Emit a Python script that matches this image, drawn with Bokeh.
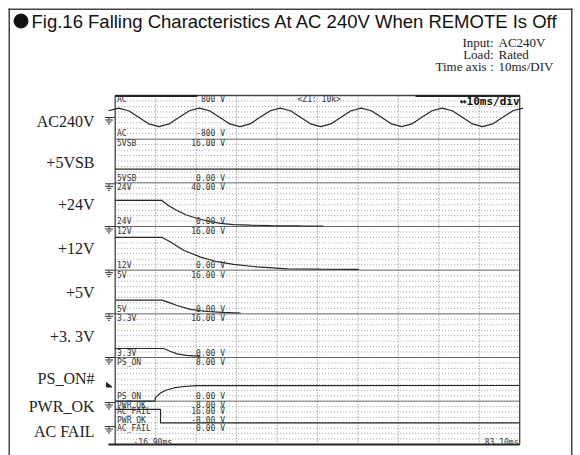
import numpy as np
from bokeh.plotting import figure
from bokeh.models import Range1d
from bokeh.core.properties import value
from bokeh.embed import file_html
from bokeh.resources import INLINE

# ---------------- data ----------------
t_start, t_end = -16.9, 83.1            # time axis (ms), 10 ms/div

# AC input (V), sampled every 2.5 ms starting at -18.58 ms
ac_t0, ac_dt = -18.58, 2.5
ac_v = [240, 340, 240, 0, -240, -340, -240, 0,
        240, 340, 240, 0, -240, -340, -240, 0,
        240, 340, 240, 0, -240, -340, -240, 0,
        240, 340, 240, 0, -240, -340, -240, 0,
        240, 340, 240, 0, -240, -340, -240, 0,
        240, 340]

vsb_t = [-16.9, 83.1]
vsb_v = [5.0, 5.0]
v24_t = [-16.9, -5.45, -3.7, -1.6, 0.7, 3.4, 6.2, 9.1, 12.4, 16.6, 21.5, 28.9, 34.6]
v24_v = [24.0, 24.0, 19.0, 14.7, 10.5, 7.3, 4.8, 2.9, 1.8, 1.2, 0.8, 0.55, 0.45]
v12_t = [-16.9, -5.3, -3.2, 0.1, 4.2, 8.3, 12.4, 18.2, 25.6, 33.9, 43.3]
v12_v = [12.0, 12.0, 10.3, 7.2, 4.8, 3.1, 2.1, 1.2, 0.5, 0.35, 0.3]
v5_t = [-16.9, -5.3, -3.7, -1.6, 1.7, 5.8, 9.6, 14.1]
v5_v = [5.0, 5.0, 4.2, 3.05, 1.65, 0.85, 0.5, 0.3]
v33_t = [-16.9, -4.9, -3.2, -1.6, 0.7, 4.2]
v33_v = [3.3, 3.3, 2.2, 1.35, 0.75, 0.4]
pson_t = [-16.9, -7.1, -6.9, -5.7, -4.2, -2.4, 0.1, 3.4, 83.1]
pson_v = [0.0, 0.0, 0.7, 1.5, 2.05, 2.42, 2.69, 2.84, 2.87]
pwrok_t = [-16.9, -5.7, -5.7, 83.1]
pwrok_v = [5.0, 5.0, 0.0, 0.0]

# channel scales (full scale of each zone)
ch_names = ["AC", "5VSB", "24V", "12V", "5V", "3.3V", "PS_ON", "PWR_OK", "AC_FAIL"]
ch_min = [-800, 0, 0, 0, 0, 0, 0, -8, 0]
ch_max = [800, 16, 40, 16, 16, 16, 8, 8, 16]
ch_hi_txt = ["800 V", "16.00 V", "40.00 V", "16.00 V", "16.00 V", "16.00 V", "8.00 V", "8.00 V", "16.00 V"]
ch_lo_txt = ["-800 V", "0.00 V", "0.00 V", "0.00 V", "0.00 V", "0.00 V", "0.00 V", "-8.00 V", "0.00 V"]

side_labels = ["AC240V", "+5VSB", "+24V", "+12V", "+5V", "+3. 3V", "PS_ON#", "PWR_OK", "AC FAIL"]
title_text = "Fig.16  Falling Characteristics At AC 240V When REMOTE Is Off"
info_keys = ["Input", "Load", "Time axis "]
info_vals = ["AC240V", "Rated", "10ms/DIV"]
t_left_txt, t_right_txt = "-16.90ms", "83.10ms"
zoom_txt, div_txt = "<Z1: 10k>", "\u219410ms/div"

# ---------------- layout (page pixels) ----------------
W, H = 580, 455
PX0 = PY0 = 0
SL, SR, ST, SB = 114.7, 519.2, 95.0, 444.0
ZH = (400.67 - ST) / 7.0
zone_top = [ST + i * ZH for i in range(8)] + [ST + 7 * ZH]
zone_bot = [ST + (i + 1) * ZH for i in range(7)] + [SB, SB]
ppm = (SR - SL) / (t_end - t_start)

p = figure(width=W, height=H,
           x_range=Range1d(t_start - (SL - PX0) / ppm, t_end + (PX0 + W - SR) / ppm),
           y_range=Range1d(PY0 + H, PY0),
           x_axis_location=None, y_axis_location=None,
           output_backend="svg", toolbar_location=None, min_border=0)
p.grid.visible = False
p.outline_line_color = None
p.background_fill_color = "white"
p.border_fill_color = "white"
p.extra_x_ranges = {"px": Range1d(PX0, PX0 + W)}

for name, top, bot, lo, hi in zip(ch_names, zone_top, zone_bot, ch_min, ch_max):
    s = (bot - top) / (hi - lo)
    p.extra_y_ranges[name] = Range1d(lo + (bot - (PY0 + H)) / s, lo + (bot - PY0) / s)

# outer frame
p.multi_line(xs=[[8.75, 8.75], [8, 572], [571.25, 571.25]],
             ys=[[8, 455], [8.75, 8.75], [8, 455]],
             x_range_name="px", line_color="#444", line_width=1.5)

# dotted grid rows
rows = []
for k in range(1, 64):
    if k % 8 == 0 and k <= 56:
        continue
    if k < 56:
        rows.append(ST + k * ZH / 8)
    else:
        rows.append(zone_top[7] + (k - 56) * (SB - zone_top[7]) / 8)
p.multi_line(xs=[[SL, SR]] * len(rows), ys=[[y, y] for y in rows], x_range_name="px",
             line_color="#9a9a9a", line_width=1, line_dash="1 2")
# dotted vertical division lines
vx = [t_start + 10 * k for k in range(1, 10)]
p.multi_line(xs=[[x, x] for x in vx], ys=[[ST, SB]] * len(vx),
             line_color="#777", line_width=1, line_dash="1 2")

# zone boundaries
bnd = [ST + k * ZH for k in range(1, 8)]
p.multi_line(xs=[[SL, SR]] * len(bnd), ys=[[y, y] for y in bnd], x_range_name="px",
             line_color="#666", line_width=1)

# scope border
p.multi_line(xs=[[SL, SL], [SR, SR], [SL, SR]], ys=[[ST, SB], [ST, SB], [ST, ST]],
             x_range_name="px", line_color="#444", line_width=1.3)
p.multi_line(xs=[[108, SR], [SL, 196.7], [415, SR]], ys=[[SB, SB], [ST + 0.5, ST + 0.5], [ST + 0.5, ST + 0.5]],
             x_range_name="px", line_color="#222", line_width=2.2)

# traces
TR = dict(line_color="#262626", line_width=1.2)
ac_t = [ac_t0 + i * ac_dt for i in range(len(ac_v))]
p.line(ac_t, ac_v, y_range_name="AC", **TR)
p.line(vsb_t, vsb_v, y_range_name="5VSB", **TR)
p.line(v24_t, v24_v, y_range_name="24V", **TR)
p.line(v12_t, v12_v, y_range_name="12V", **TR)
p.line(v5_t, v5_v, y_range_name="5V", **TR)
p.line(v33_t, v33_v, y_range_name="3.3V", **TR)
p.line(pson_t, pson_v, y_range_name="PS_ON", **TR)
p.line(pwrok_t, pwrok_v, y_range_name="PWR_OK", **TR)

# ground symbols
g_tops = [117, 183.3, 226, 269.7, 313.3, 357, 402, 426]
gx, gy = [], []
for y0 in g_tops:
    gx += [[104.5, SL], [108.5, 108.5], [104.5, 112.5], [106, 111], [107.5, 109.5]]
    gy += [[y0, y0], [y0, y0 + 2.5], [y0 + 2.5, y0 + 2.5], [y0 + 4.5, y0 + 4.5], [y0 + 6.5, y0 + 6.5]]
p.multi_line(xs=gx, ys=gy, x_range_name="px", line_color="#333", line_width=1)
p.patch(x=[106, 106, 111.5], y=[382, 386.5, 386.5], x_range_name="px", color="#222")

MONO = "DejaVu Sans Mono"

def txt(xs, ys, texts, font, size, align="left", color="#333", style="normal"):
    p.text(x=xs, y=ys, text=texts, x_range_name="px", text_font=value(font),
           text_font_size=value(size), text_align=align, text_baseline="middle",
           text_color=color, text_font_style=style)

# channel labels inside the scope
top_y = [99.3, 142.8, 187.0, 230.5, 274.5, 318.0, 361.5, 405.0, 410.5]
bot_y = [133.3, 177.7, 221.0, 265.0, 308.5, 352.5, 396.0, 420.0, 428.0]
txt([116.5] * 9, top_y, ch_names, MONO, "8px")
txt([224.5] * 9, top_y, ch_hi_txt, MONO, "8px", align="right")
txt([116.5] * 9, bot_y, ch_names, MONO, "8px")
txt([224.5] * 9, bot_y, ch_lo_txt, MONO, "8px", align="right")
txt([133], [441.5], [t_left_txt], MONO, "8px")
txt([518], [441.5], [t_right_txt], MONO, "8px", align="right")
txt([297], [98.5], [zoom_txt], MONO, "8px")
txt([519], [100.5], [div_txt], MONO, "11px", align="right", color="#111", style="bold")

# side labels
side_y = [121, 162, 204, 248, 292, 336, 378, 406, 431]
txt([94] * 9, side_y, side_labels, "Liberation Serif", "16px", align="right", color="#222")

# title
p.scatter(x=[20.5], y=[20.5], size=14, marker="circle", x_range_name="px", color="#111")
txt([31], [20.5], [title_text], "Liberation Sans", "18.5px", color="#111")

# info
info_y = [42, 54, 66]
txt([493] * 3, info_y, [k + ":" for k in info_keys], "Liberation Serif", "13px", align="right", color="#222")
txt([498] * 3, info_y, info_vals, "Liberation Serif", "13px", color="#222")

open("out.html", "w").write(file_html(p, INLINE))
